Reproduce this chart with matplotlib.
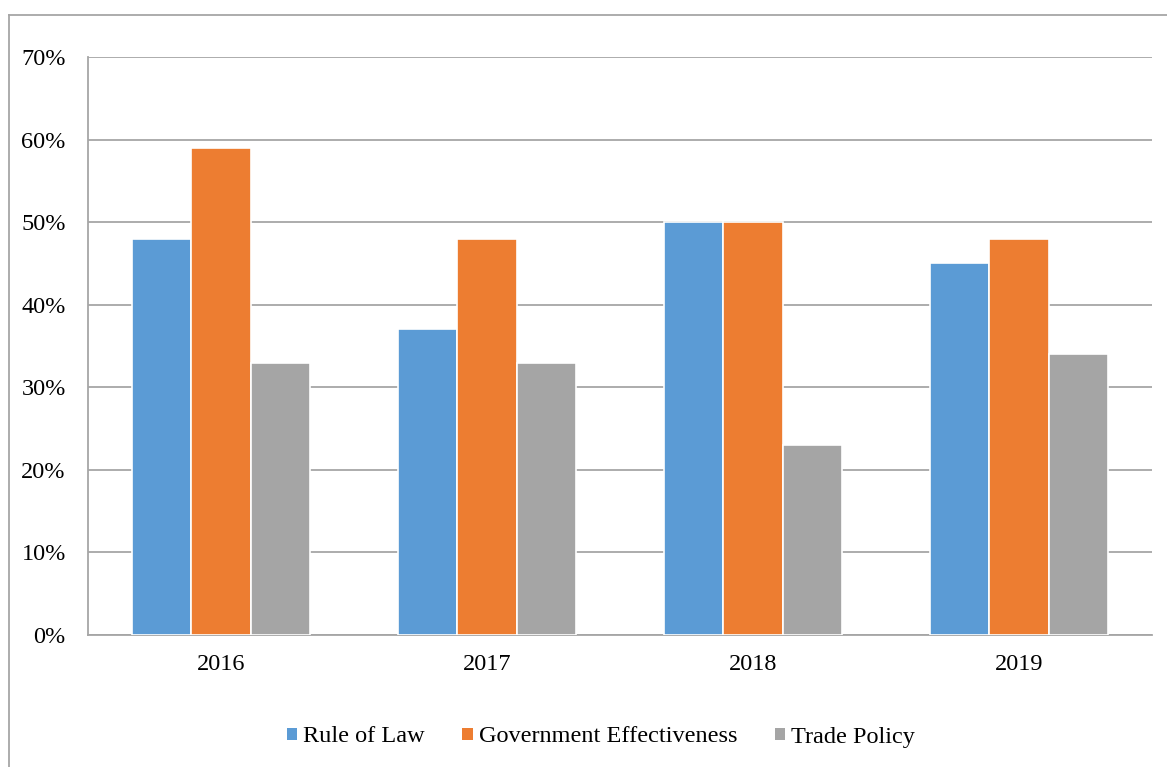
import matplotlib.pyplot as plt
import numpy as np
from matplotlib.patches import Patch
from matplotlib.lines import Line2D
from matplotlib.ticker import FuncFormatter

years = ['2016', '2017', '2018', '2019']
rule_of_law = [48, 37, 50, 45]
gov_effectiveness = [59, 48, 50, 48]
trade_policy = [33, 33, 23, 34]

series = [
    ('Rule of Law', rule_of_law, '#5B9BD5'),
    ('Government Effectiveness', gov_effectiveness, '#ED7D31'),
    ('Trade Policy', trade_policy, '#A5A5A5'),
]

plt.rcParams['font.family'] = ['Liberation Serif', 'DejaVu Serif']

fig = plt.figure(figsize=(11.67, 7.67), dpi=100)
ax = fig.add_axes([88 / 1167, 1 - 635 / 767, (1152 - 88) / 1167, (635 - 57) / 767])

x = np.arange(len(years))
width = 0.222
for i, (name, vals, color) in enumerate(series):
    ax.bar(x + (i - 1) * width, vals, width, color=color, edgecolor='white',
           linewidth=1.2, label=name, zorder=3)

ax.set_xlim(-0.5, len(years) - 0.5)
ax.set_ylim(0, 70)
ax.set_yticks(range(0, 71, 10))
ax.yaxis.set_major_formatter(FuncFormatter(lambda v, _: f'{v:.0f}%'))
ax.set_xticks(x)
ax.set_xticklabels(years)

grid_color = '#A6A6A6'
ax.grid(axis='y', color=grid_color, linewidth=1.3, zorder=0)
ax.tick_params(axis='both', length=0, labelsize=17.5)
ax.tick_params(axis='y', pad=16)
ax.tick_params(axis='x', pad=14)

for side in ['top', 'right']:
    ax.spines[side].set_visible(False)
for side in ['left', 'bottom']:
    ax.spines[side].set_color(grid_color)
    ax.spines[side].set_linewidth(1.3)

# chart frame around the whole drawing
fx, fy = 8.5 / 1167, 1 - 14.5 / 767
fig.add_artist(Line2D([fx, 1.0], [fy, fy], transform=fig.transFigure,
                      color='#A6A6A6', linewidth=1.3))
fig.add_artist(Line2D([fx, fx], [0.0, fy], transform=fig.transFigure,
                      color='#A6A6A6', linewidth=1.3))

handles = [Patch(facecolor=c, edgecolor='none', label=n) for n, _, c in series]
fig.legend(handles=handles, loc='center', bbox_to_anchor=(601 / 1167, 1 - 737 / 767),
           ncol=3, frameon=False, fontsize=17.5, handlelength=0.42, handleheight=0.42,
           handletextpad=0.25, columnspacing=1.55)

fig.savefig('out.png', dpi=100, facecolor='white')
